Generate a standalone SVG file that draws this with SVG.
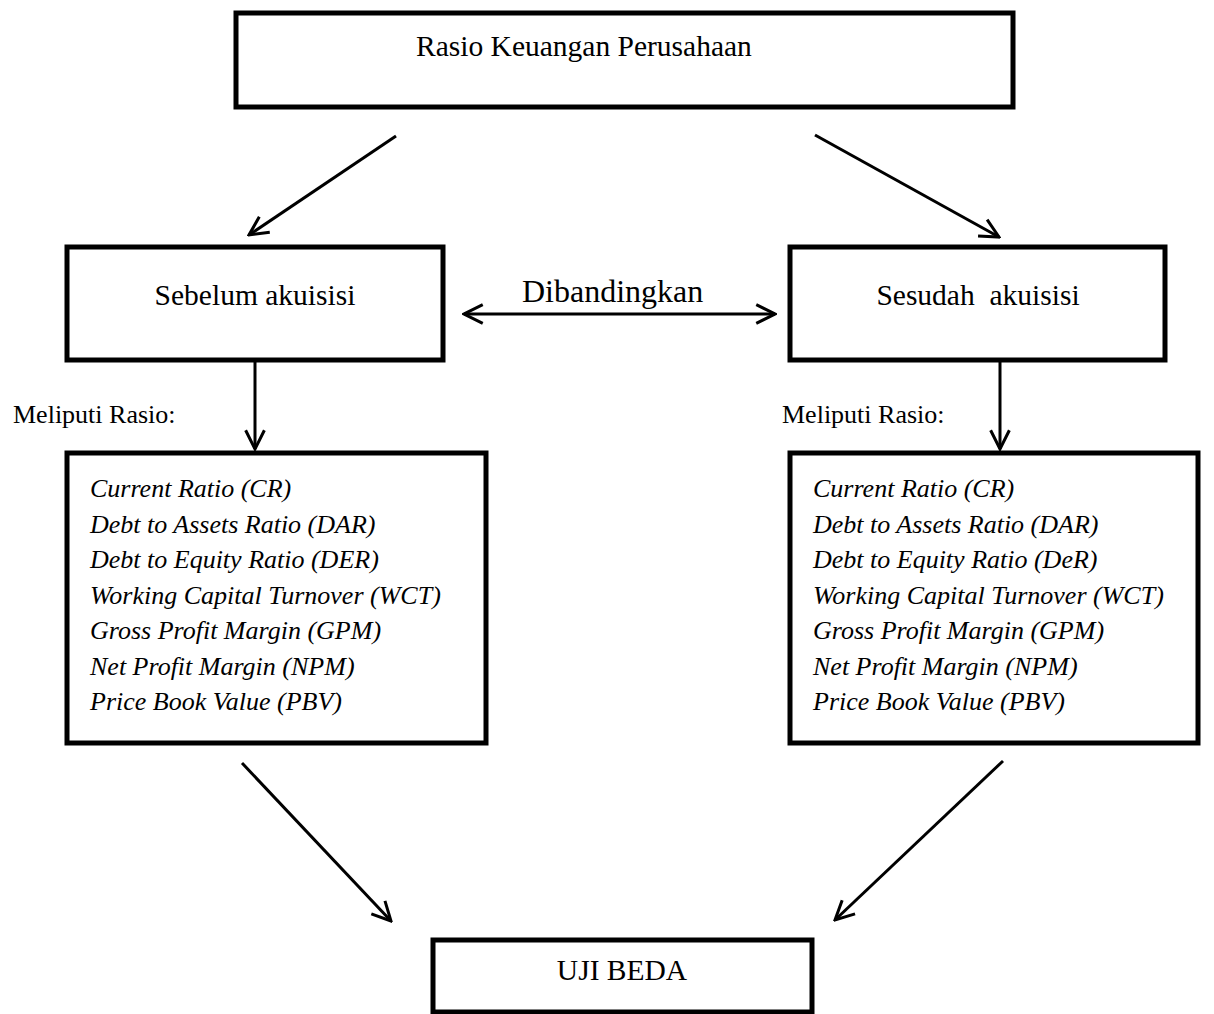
<svg xmlns="http://www.w3.org/2000/svg" width="1214" height="1014" viewBox="0 0 1214 1014">
<defs>
<style>
.box{fill:#fff;stroke:#000;stroke-width:5}
.t{font-family:"Liberation Serif","Times New Roman",serif;font-size:29.5px;fill:#000}
.big{font-size:32px}
.sm{font-size:26px}
.it{font-family:"Liberation Serif","Times New Roman",serif;font-size:26px;font-style:italic;fill:#000}
.c{text-anchor:middle}
.ln{stroke:#000;stroke-width:3;fill:none}
</style>
<marker id="ah" viewBox="0 0 12 12" refX="11" refY="6" markerWidth="7.5" markerHeight="7.5" orient="auto-start-reverse" markerUnits="strokeWidth">
<path d="M1,1 L11,6 L1,11" fill="none" stroke="#000" stroke-width="1.6"/>
</marker>
</defs>
<rect width="1214" height="1014" fill="#fff"/>
<g id="top">
<rect class="box" x="236" y="13" width="777" height="94"/>
<text class="t" x="416" y="56">Rasio Keuangan Perusahaan</text>
</g>
<g id="sebelum">
<rect class="box" x="67" y="247" width="376" height="113"/>
<text class="t c" x="255" y="305">Sebelum akuisisi</text>
</g>
<g id="sesudah">
<rect class="box" x="790" y="247" width="375" height="113"/>
<text class="t c" x="978" y="305" xml:space="preserve">Sesudah  akuisisi</text>
</g>
<g id="list-left">
<rect class="box" x="67" y="453" width="419" height="290"/>
<text class="it" x="90" y="497">Current Ratio (CR)</text>
<text class="it" x="90" y="532.5">Debt to Assets Ratio (DAR)</text>
<text class="it" x="90" y="568">Debt to Equity Ratio (DER)</text>
<text class="it" x="90" y="603.5">Working Capital Turnover (WCT)</text>
<text class="it" x="90" y="639">Gross Profit Margin (GPM)</text>
<text class="it" x="90" y="674.5">Net Profit Margin (NPM)</text>
<text class="it" x="90" y="710">Price Book Value (PBV)</text>
</g>
<g id="list-right">
<rect class="box" x="790" y="453" width="408" height="290"/>
<text class="it" x="813" y="497">Current Ratio (CR)</text>
<text class="it" x="813" y="532.5">Debt to Assets Ratio (DAR)</text>
<text class="it" x="813" y="568">Debt to Equity Ratio (DeR)</text>
<text class="it" x="813" y="603.5">Working Capital Turnover (WCT)</text>
<text class="it" x="813" y="639">Gross Profit Margin (GPM)</text>
<text class="it" x="813" y="674.5">Net Profit Margin (NPM)</text>
<text class="it" x="813" y="710">Price Book Value (PBV)</text>
</g>
<g id="uji">
<rect class="box" x="433" y="940" width="379" height="72"/>
<text class="t c" x="622" y="980">UJI BEDA</text>
</g>
<g id="labels">
<text class="t sm" x="13" y="423">Meliputi Rasio:</text>
<text class="t sm" x="782" y="423">Meliputi Rasio:</text>
<text class="t big" x="522" y="302">Dibandingkan</text>
</g>
<g id="connectors">
<line class="ln" x1="396" y1="136" x2="249" y2="235" marker-end="url(#ah)"/>
<line class="ln" x1="815" y1="135" x2="999" y2="237" marker-end="url(#ah)"/>
<line class="ln" x1="464" y1="314" x2="775" y2="314" marker-start="url(#ah)" marker-end="url(#ah)"/>
<line class="ln" x1="255" y1="362" x2="255" y2="449" marker-end="url(#ah)"/>
<line class="ln" x1="1000" y1="362" x2="1000" y2="449" marker-end="url(#ah)"/>
<line class="ln" x1="242" y1="763" x2="391" y2="921" marker-end="url(#ah)"/>
<line class="ln" x1="1003" y1="761" x2="835" y2="920" marker-end="url(#ah)"/>
</g>
</svg>
